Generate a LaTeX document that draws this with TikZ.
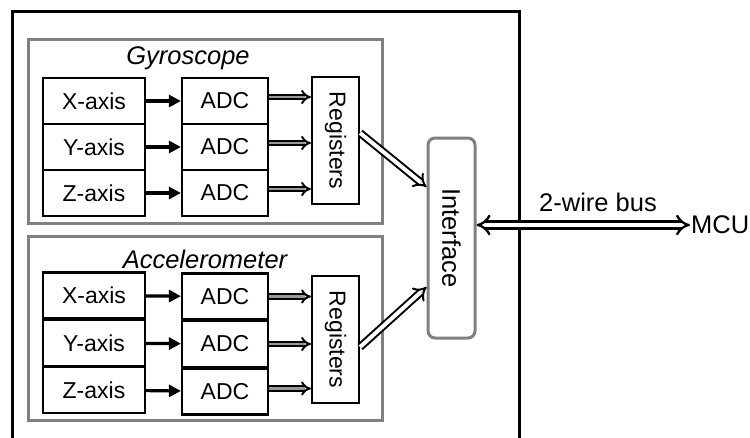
\documentclass[tikz,border=0pt]{standalone}
\usepackage{fontspec}
\setmainfont{Liberation Sans}
\usetikzlibrary{arrows.meta}
\begin{document}
\begin{tikzpicture}[x=1pt,y=-1pt,
  blk/.style={draw=black, line width=2.2pt, minimum height=46pt, inner sep=0pt, font=\fontsize{23}{27}\selectfont},
  graybox/.style={draw=black!50, line width=3pt, minimum width=354pt, minimum height=184pt, inner sep=0pt},
  regbox/.style={draw=black, line width=2.2pt, minimum width=47pt, minimum height=127pt, inner sep=0pt},
  boxtext/.style={font=\fontsize{23}{27}\selectfont, inner sep=0pt},
  titletext/.style={font=\fontsize{25.5}{30}\selectfont\itshape, inner sep=0pt},
  bigtext/.style={font=\fontsize{25.5}{30}\selectfont, inner sep=0pt},
  sarrow/.style={line width=3.2pt, -{Triangle[length=12pt,width=12pt]}},
  darrow/.style={double=black!40, draw=black, line width=2pt, double distance=2.6pt, -{Implies}},
  wdarrow/.style={double=white, draw=black, line width=2pt, double distance=4pt, -{Implies}},
  busarrow/.style={double=white, draw=black, line width=2.3pt, double distance=4.6pt, {Implies}-{Implies}}
]
\useasboundingbox (0,0) rectangle (750,437);
\clip (0,0) rectangle (750,437);
% outer frame
\draw[line width=3pt] (12,450) -- (12,11) -- (519,11) -- (519,450);

% gray groups
\node[graybox] (gyro) at (205,131) {};
\node[graybox] (accel) at (205,328) {};
\node[titletext] (gyrot) at (188,58) {Gyroscope};
\node[titletext] (accelt) at (205,259) {Accelerometer};

% gyroscope rows
\node[blk, minimum width=102pt] (gx) at (94,101) {X-axis};
\node[blk, minimum width=102pt] (gy) at (94,147) {Y-axis};
\node[blk, minimum width=102pt] (gz) at (94,193) {Z-axis};
\node[blk, minimum width=86pt] (gax) at (225,101) {ADC};
\node[blk, minimum width=86pt] (gay) at (225,147) {ADC};
\node[blk, minimum width=86pt] (gaz) at (225,193) {ADC};
\node[regbox] (greg) at (335.5,140.5) {};
\node[boxtext, rotate=-90] (gregt) at (greg.center) {Registers};

% accelerometer rows
\node[blk, minimum width=102pt] (ax) at (94,295.5) {X-axis};
\node[blk, minimum width=102pt] (ay) at (94,343) {Y-axis};
\node[blk, minimum width=102pt] (az) at (94,390) {Z-axis};
\node[blk, minimum width=86pt] (aax) at (225,296.5) {ADC};
\node[blk, minimum width=86pt] (aay) at (225,344) {ADC};
\node[blk, minimum width=86pt] (aaz) at (225,391.5) {ADC};
\node[regbox] (areg) at (335.5,339.5) {};
\node[boxtext, rotate=-90] (aregt) at (areg.center) {Registers};

% interface
\node[draw=black!50, line width=3pt, rounded corners=7pt, minimum width=47pt, minimum height=200pt, inner sep=0pt] (iface) at (451.5,238) {};
\node[bigtext, rotate=-90] (ifacet) at (iface.center) {Interface};

% MCU
\node[bigtext, anchor=west, inner xsep=1pt] (mcu) at (690,225) {MCU};
\node[bigtext] (busl) at (598,202) {2-wire bus};

% single arrows
\draw[sarrow] (gx) -- (gax);
\draw[sarrow] (gy) -- (gay);
\draw[sarrow] (gz) -- (gaz);
\draw[sarrow] (ax) -- (aax);
\draw[sarrow] (ay) -- (aay);
\draw[sarrow] (az) -- (aaz);

% double arrows ADC -> registers
\draw[darrow] ([yshift=4pt]gax.east) -- ([yshift=4pt]gax.east -| greg.west);
\draw[darrow] ([yshift=4pt]gay.east) -- ([yshift=4pt]gay.east -| greg.west);
\draw[darrow] ([yshift=4pt]gaz.east) -- ([yshift=4pt]gaz.east -| greg.west);
\draw[darrow] (aax.east) -- (aax.east -| areg.west);
\draw[darrow] (aay.east) -- (aay.east -| areg.west);
\draw[darrow] ([yshift=3pt]aaz.east) -- ([yshift=3pt]aaz.east -| areg.west);

% registers -> interface
\draw[wdarrow] ([yshift=7.5pt]greg.east) -- ([yshift=51pt]iface.west);
\draw[wdarrow] ([yshift=-7.5pt]areg.east) -- ([yshift=-49pt]iface.west);

% bus
\draw[busarrow] ([yshift=13pt]iface.east) -- (mcu.west);
\end{tikzpicture}
\end{document}
